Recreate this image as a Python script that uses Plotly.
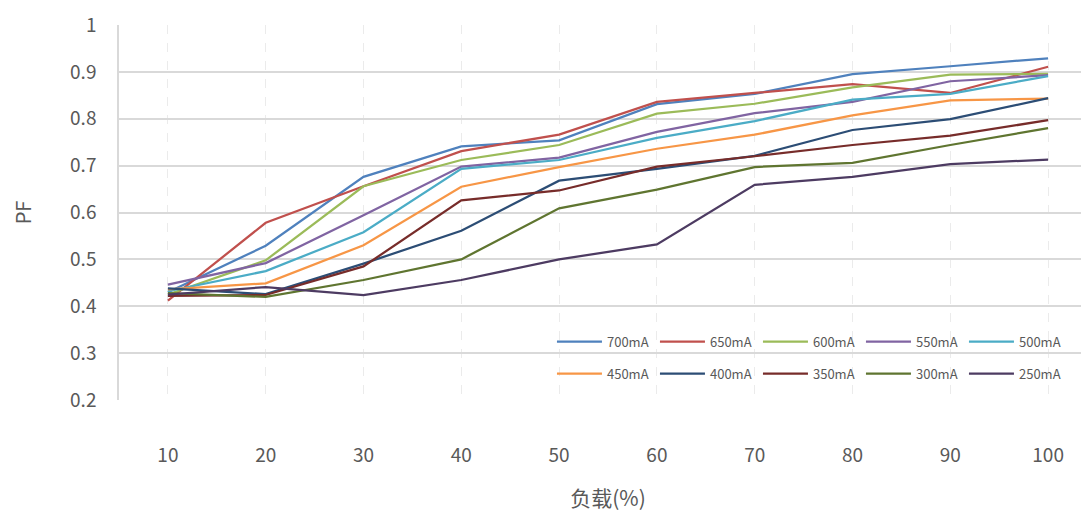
import plotly.graph_objects as go

load = [10, 20, 30, 40, 50, 60, 70, 80, 90, 100]
names = ["700mA", "650mA", "600mA", "550mA", "500mA",
         "450mA", "400mA", "350mA", "300mA", "250mA"]
pf_700 = [0.430, 0.529, 0.676, 0.741, 0.754, 0.831, 0.853, 0.895, 0.912, 0.929]
pf_650 = [0.412, 0.578, 0.656, 0.731, 0.766, 0.836, 0.855, 0.874, 0.855, 0.911]
pf_600 = [0.425, 0.498, 0.656, 0.712, 0.744, 0.811, 0.832, 0.867, 0.894, 0.896]
pf_550 = [0.446, 0.492, 0.594, 0.698, 0.717, 0.772, 0.812, 0.836, 0.880, 0.893]
pf_500 = [0.432, 0.475, 0.558, 0.693, 0.712, 0.759, 0.795, 0.841, 0.853, 0.891]
pf_450 = [0.436, 0.449, 0.530, 0.655, 0.697, 0.736, 0.766, 0.807, 0.839, 0.843]
pf_400 = [0.438, 0.426, 0.491, 0.561, 0.668, 0.693, 0.721, 0.776, 0.799, 0.844]
pf_350 = [0.422, 0.424, 0.485, 0.626, 0.647, 0.698, 0.720, 0.744, 0.764, 0.797]
pf_300 = [0.428, 0.420, 0.456, 0.500, 0.609, 0.649, 0.697, 0.706, 0.744, 0.780]
pf_250 = [0.425, 0.441, 0.424, 0.456, 0.500, 0.532, 0.659, 0.676, 0.703, 0.713]
series = [pf_700, pf_650, pf_600, pf_550, pf_500, pf_450, pf_400, pf_350, pf_300, pf_250]
colors = ["#4F81BD", "#C0504D", "#9BBB59", "#8064A2", "#4BACC6",
          "#F79646", "#2C4D75", "#772C2A", "#5F7530", "#4D3B62"]
y_ticks = [0.2, 0.3, 0.4, 0.5, 0.6, 0.7, 0.8, 0.9, 1.0]
y_labels = ["0.2", "0.3", "0.4", "0.5", "0.6", "0.7", "0.8", "0.9", "1"]

FONT = "Noto Sans CJK SC"
fig = go.Figure()
for i, (nm, ys, c) in enumerate(zip(names, series, colors)):
    fig.add_trace(go.Scatter(
        x=load, y=ys, name=nm, mode="lines",
        line=dict(color=c, width=2.25),
        legend="legend" if i < 5 else "legend2",
    ))

leg_common = dict(orientation="h", xanchor="left", yanchor="middle",
                  bgcolor="rgba(0,0,0,0)", borderwidth=0,
                  font=dict(family=FONT, size=13, color="#595959"),
                  entrywidth=43, entrywidthmode="pixels", itemwidth=45)

fig.update_layout(
    width=1089, height=514,
    margin=dict(l=111, r=0, t=16.5, b=121.5, autoexpand=False),
    paper_bgcolor="white", plot_bgcolor="white",
    font=dict(family=FONT, color="#595959"),
    showlegend=True,
    legend=dict(x=0.4427, y=0.1556, **leg_common),
    legend2=dict(x=0.4427, y=0.0705, **leg_common),
    xaxis=dict(
        range=[5, 105], tickvals=load, ticktext=[str(v) for v in load],
        showgrid=True, gridcolor="#ebebeb", griddash="dash", gridwidth=1,
        zeroline=False, showline=False, automargin=False,
        tickfont=dict(family=FONT, size=19, color="#595959"),
        ticklabelstandoff=42,
        title=dict(text="负载(%)", font=dict(family=FONT, size=21, color="#595959"), standoff=25),
    ),
    yaxis=dict(
        range=[0.2, 1.0], tickvals=y_ticks, ticktext=y_labels,
        showgrid=True, gridcolor="#d9d9d9", gridwidth=2,
        zeroline=False, showline=True, linecolor="#d9d9d9", linewidth=1.5,
        automargin=False,
        tickfont=dict(family=FONT, size=19, color="#595959"),
        ticklabelstandoff=17,
        title=dict(text="PF", font=dict(family=FONT, size=20, color="#595959"), standoff=40),
    ),
)

fig.write_html("out.html")
